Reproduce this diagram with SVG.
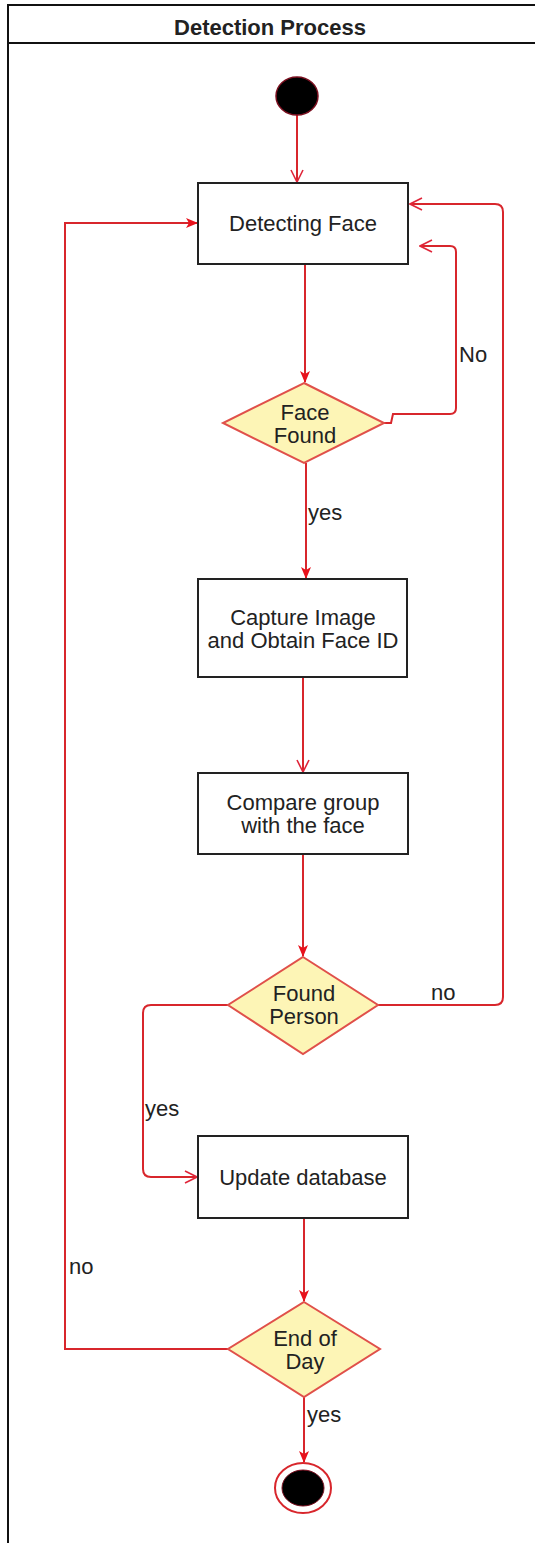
<svg xmlns="http://www.w3.org/2000/svg" width="535" height="1543" viewBox="0 0 535 1543">
<defs>
<style>
text{font-family:"Liberation Sans",Arial,sans-serif;font-size:22px;fill:#222;}
.t{text-anchor:middle;}
.box{fill:#fff;stroke:#222;stroke-width:2;}
.dia{fill:#fdf5b6;stroke:#e0504a;stroke-width:2;}
.c{fill:none;stroke:#d8262c;stroke-width:2;}
</style>
<marker id="fa" viewBox="0 0 12 12" refX="11" refY="6" markerWidth="12" markerHeight="12" markerUnits="userSpaceOnUse" orient="auto">
<path d="M0,1 L12,6 L0,11 L3,6 Z" fill="#e8121c"/>
</marker>
<marker id="oa" viewBox="0 0 14 14" refX="13" refY="7" markerWidth="14" markerHeight="14" markerUnits="userSpaceOnUse" orient="auto">
<path d="M1,1 L13,7 L1,13" fill="none" stroke="#e0263a" stroke-width="1.6"/>
</marker>
</defs>
<rect width="535" height="1543" fill="#fff"/>
<g id="frame">
<path d="M8,1543 L8,5 L535,5 M8,43 L535,43" fill="none" stroke="#111" stroke-width="2"/>
<text x="270" y="35" class="t" style="font-weight:bold">Detection Process</text>
</g>
<g id="connectors">
<path class="c" d="M297,115 L297,182" marker-end="url(#oa)"/>
<path class="c" d="M305,264 L305,382" marker-end="url(#fa)"/>
<path class="c" d="M384,423 L391,423 L393,414 L450,414 Q456,414 456,408 L456,252 Q456,246 450,246 L420,246" marker-end="url(#oa)"/>
<path class="c" d="M306,463 L306,578" marker-end="url(#fa)"/>
<path class="c" d="M303,677 L303,772" marker-end="url(#oa)"/>
<path class="c" d="M303,854 L303,956" marker-end="url(#fa)"/>
<path class="c" d="M378,1005 L495,1005 Q503,1005 503,997 L503,212 Q503,204 495,204 L410,204" marker-end="url(#oa)"/>
<path class="c" d="M228,1005 L151,1005 Q143,1005 143,1013 L143,1169 Q143,1177 151,1177 L197,1177" marker-end="url(#oa)"/>
<path class="c" d="M304,1218 L304,1301" marker-end="url(#fa)"/>
<path class="c" d="M228,1349 L65,1349 L65,223 L197,223" marker-end="url(#fa)"/>
<path class="c" d="M304,1397 L304,1462" marker-end="url(#fa)"/>
<text x="459" y="362">No</text>
<text x="308" y="520">yes</text>
<text x="431" y="1000">no</text>
<text x="145" y="1116">yes</text>
<text x="69" y="1274">no</text>
<text x="307" y="1422">yes</text>
</g>
<g id="start">
<ellipse cx="297" cy="96" rx="21" ry="19" fill="#000" stroke="#7a0f1f" stroke-width="1.5"/>
</g>
<g id="detecting-face">
<rect class="box" x="198" y="183" width="210" height="81"/>
<text x="303" y="231" class="t">Detecting Face</text>
</g>
<g id="face-found">
<polygon class="dia" points="304,383 384,423 304,463 223,423"/>
<text x="305" y="420" class="t">Face</text>
<text x="305" y="443" class="t">Found</text>
</g>
<g id="capture-image">
<rect class="box" x="198" y="579" width="209" height="98"/>
<text x="303" y="625" class="t">Capture Image</text>
<text x="303" y="648" class="t">and Obtain Face ID</text>
</g>
<g id="compare-group">
<rect class="box" x="198" y="773" width="210" height="81"/>
<text x="303" y="810" class="t">Compare group</text>
<text x="303" y="833" class="t">with the face</text>
</g>
<g id="found-person">
<polygon class="dia" points="303,957 378,1005 303,1054 228,1005"/>
<text x="304" y="1001" class="t">Found</text>
<text x="304" y="1024" class="t">Person</text>
</g>
<g id="update-database">
<rect class="box" x="198" y="1136" width="210" height="82"/>
<text x="303" y="1185" class="t">Update database</text>
</g>
<g id="end-of-day">
<polygon class="dia" points="304,1302 380,1349 304,1397 228,1349"/>
<text x="305" y="1346" class="t">End of</text>
<text x="305" y="1369" class="t">Day</text>
</g>
<g id="end">
<ellipse cx="303" cy="1488" rx="28" ry="25" fill="#fff" stroke="#d8262c" stroke-width="2"/>
<ellipse cx="303" cy="1488" rx="21" ry="18" fill="#000" stroke="#7a0f1f" stroke-width="1"/>
</g>
</svg>
